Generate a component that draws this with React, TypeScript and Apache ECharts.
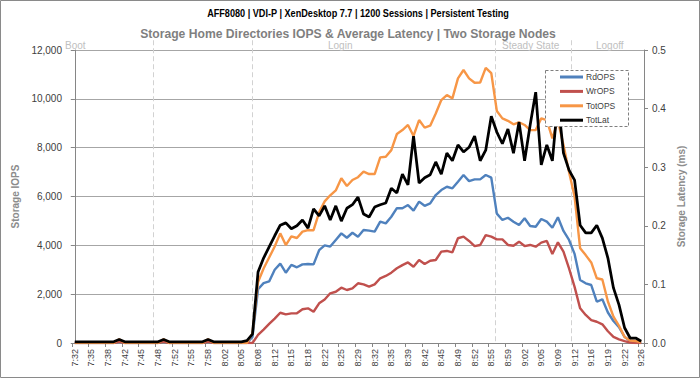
import React, { useEffect, useRef } from "react";
import * as echarts from "echarts";

const times: string[] = [
  "7:32", "7:33", "7:34", "7:35", "7:36", "7:37", "7:38", "7:39", "7:41",
  "7:42", "7:43", "7:44", "7:45", "7:46", "7:47", "7:48", "7:49", "7:51",
  "7:52", "7:53", "7:54", "7:55", "7:56", "7:57", "7:58", "7:59", "8:01",
  "8:02", "8:03", "8:04", "8:05", "8:06", "8:07", "8:08", "8:09", "8:11",
  "8:12", "8:13", "8:14", "8:15", "8:16", "8:17", "8:18", "8:19", "8:21",
  "8:22", "8:23", "8:24", "8:25", "8:26", "8:28", "8:29", "8:30", "8:31",
  "8:32", "8:33", "8:34", "8:35", "8:36", "8:38", "8:39", "8:40", "8:41",
  "8:42", "8:43", "8:44", "8:45", "8:46", "8:48", "8:49", "8:50", "8:51",
  "8:52", "8:53", "8:54", "8:55", "8:56", "8:58", "8:59", "9:00", "9:01",
  "9:02", "9:03", "9:04", "9:05", "9:06", "9:08", "9:09", "9:10", "9:11",
  "9:12", "9:13", "9:15", "9:16", "9:17", "9:18", "9:19", "9:20", "9:21",
  "9:22", "9:23", "9:25", "9:26",
];

const rdOPS: number[] = [
  0, 0, 0, 0, 0, 0, 0, 0, 90, 0, 0, 0, 0, 0, 0, 0, 90, 0, 0, 0,
  0, 0, 0, 0, 90, 0, 0, 0, 0, 0, 0, 0, 250, 2200, 2450, 2520, 3000, 3250, 2880, 3200,
  3100, 3220, 3235, 3220, 3800, 4000, 3950, 4220, 4490, 4310, 4515, 4350, 4630, 4600, 4560, 4970, 4900, 5170, 5520, 5520,
  5650, 5420, 5790, 5620, 5720, 6060, 6265, 6400, 6335, 6605, 6880, 6630, 6700, 6700, 6880, 6770, 5300, 5040, 5130, 4970,
  4830, 5110, 4790, 4760, 5080, 4970, 4720, 5150, 4590, 4220, 3650, 2580, 2445, 2375, 1690, 1790, 1250, 900, 650, 250,
  80, 50, 20,
];

const wrOPS: number[] = [
  0, 0, 0, 0, 0, 0, 0, 0, 60, 0, 0, 0, 0, 0, 0, 0, 60, 0, 0, 0,
  0, 0, 0, 0, 60, 0, 0, 0, 0, 0, 0, 0, 0, 330, 550, 780, 1000, 1240, 1175, 1215,
  1215, 1380, 1420, 1280, 1625, 1780, 2035, 2100, 2265, 2170, 2240, 2445, 2400, 2305, 2400, 2650, 2745, 2880, 3060, 3190,
  3300, 3125, 3400, 3235, 3370, 3400, 3740, 3770, 3715, 4290, 4355, 4180, 3970, 4015, 4420, 4355, 4245, 4245, 4015, 3985,
  4150, 3970, 4015, 3945, 4110, 4180, 3645, 4125, 3740, 3060, 2300, 1420, 1150, 940, 870, 765, 480, 250, 150, 80,
  20, 0, 0,
];

const totOPS: number[] = [
  0, 0, 0, 0, 0, 0, 0, 0, 150, 0, 0, 0, 0, 0, 0, 0, 150, 0, 0, 0,
  0, 0, 0, 0, 150, 0, 0, 0, 0, 0, 0, 0, 400, 2500, 3050, 3500, 3950, 4490, 4010, 4370,
  4300, 4560, 4620, 4620, 5350, 5800, 6050, 6250, 6745, 6430, 6675, 6790, 7015, 6920, 6920, 7600, 7630, 7900, 8560, 8720,
  8930, 8480, 9130, 8820, 8900, 9400, 9950, 10155, 10020, 10840, 11180, 10840, 10660, 10670, 11270, 11050, 9500, 9200, 9100, 8955,
  9040, 8930, 8720, 8720, 9200, 9130, 8380, 9100, 8110, 7000, 6000, 3880, 3600, 3300, 2650, 2600, 1700, 1080, 700, 250,
  100, 80, 30,
];

const totLat: number[] = [
  0.002, 0.002, 0.002, 0.002, 0.002, 0.002, 0.002, 0.002, 0.006, 0.002, 0.002, 0.002, 0.002, 0.002, 0.002, 0.002, 0.006, 0.002, 0.002, 0.002,
  0.002, 0.002, 0.002, 0.002, 0.006, 0.002, 0.002, 0.002, 0.002, 0.002, 0.002, 0.004, 0.015, 0.121, 0.145, 0.164, 0.183, 0.201, 0.205, 0.195,
  0.2, 0.21, 0.196, 0.229, 0.217, 0.234, 0.21, 0.234, 0.208, 0.23, 0.236, 0.249, 0.22, 0.215, 0.232, 0.236, 0.239, 0.264, 0.256, 0.288,
  0.27, 0.353, 0.273, 0.282, 0.287, 0.309, 0.288, 0.324, 0.311, 0.338, 0.326, 0.334, 0.353, 0.311, 0.329, 0.387, 0.36, 0.34, 0.365, 0.324,
  0.377, 0.311, 0.372, 0.428, 0.304, 0.338, 0.311, 0.415, 0.324, 0.295, 0.278, 0.201, 0.188, 0.188, 0.201, 0.179, 0.145, 0.094, 0.065, 0.026,
  0.0085, 0.0085, 0.003,
];

const seriesNames = ["RdOPS", "WrOPS", "TotOPS", "TotLat"];
const seriesColors = ["#4F81BD", "#C0504D", "#F79646", "#000000"];

// phase boundaries, in category-index units
const phaseBounds: number[] = [14.1, 31.9, 75.6, 89.4];
const phaseNames = ["Boot", "Login", "Steady State", "Logoff"];
const phaseLabelX = [65, 328, 502, 596];

const titleText = "AFF8080 | VDI-P | XenDesktop 7.7 | 1200 Sessions | Persistent Testing";
const subText = "Storage Home Directories IOPS & Average Latency | Two Storage Nodes";

const FONT = "'Liberation Sans', Arial, sans-serif";

export default function App() {
  const ref = useRef<HTMLDivElement>(null);
  useEffect(() => {
    if (!ref.current) return;
    const chart = echarts.init(ref.current, undefined, { renderer: "svg" });
    const axisGray = "#868686";
    const option: any = {
      animation: false,
      backgroundColor: "#ffffff",
      textStyle: { fontFamily: FONT },
      legend: {
        data: seriesNames,
        orient: "vertical",
        left: 560,
        top: 72.5,
        padding: 0,
        itemGap: 5.4,
        itemWidth: 23,
        itemHeight: 3,
        icon: "rect",
        z: 10,
        textStyle: { fontSize: 8.5, color: "#404040", fontFamily: FONT, padding: [0, 0, 0, -2] },
      },
      grid: { left: 72, right: 56, top: 50, bottom: 35 },
      xAxis: [
        {
          type: "category",
          data: times,
          boundaryGap: true,
          axisLine: { show: true, lineStyle: { color: axisGray, width: 1 } },
          axisTick: { show: true, interval: 2, length: 4, lineStyle: { color: axisGray } },
          axisLabel: { interval: 2, rotate: 90, fontSize: 9, color: "#404040", margin: 6 },
          splitLine: { show: false },
        },
        { type: "value", min: -0.5, max: 102.5, show: false },
      ],
      yAxis: [
        {
          type: "value",
          min: 0,
          max: 12000,
          interval: 2000,
          position: "left",
          name: "Storage IOPS",
          nameLocation: "middle",
          nameGap: 44,
          nameTextStyle: { color: "#8c8c8c", fontWeight: "bold", fontSize: 10 },
          axisLine: { show: true, lineStyle: { color: axisGray } },
          axisTick: { show: true, length: 4, lineStyle: { color: axisGray } },
          axisLabel: {
            fontSize: 10,
            color: "#404040",
            margin: 10,
            formatter: (v: number) => v.toLocaleString("en-US"),
          },
          splitLine: { show: true, lineStyle: { color: "#a6a6a6", width: 1 } },
        },
        {
          type: "value",
          min: 0,
          max: 0.5,
          interval: 0.1,
          position: "right",
          name: "Storage Latency (ms)",
          nameLocation: "middle",
          nameGap: 32,
          nameTextStyle: { color: "#8c8c8c", fontWeight: "bold", fontSize: 10 },
          axisLine: { show: true, lineStyle: { color: axisGray } },
          axisTick: { show: true, length: 4, lineStyle: { color: axisGray } },
          axisLabel: {
            fontSize: 10,
            color: "#404040",
            margin: 8,
            formatter: (v: number) => v.toFixed(1),
          },
          splitLine: { show: false },
        },
      ],
      series: [
        ...[rdOPS, wrOPS, totOPS].map((d, i) => ({
          name: seriesNames[i],
          type: "line",
          data: d,
          xAxisIndex: 0,
          yAxisIndex: 0,
          symbol: "none",
          showSymbol: false,
          color: seriesColors[i],
          lineStyle: { width: 2.4, color: seriesColors[i] },
          z: 2,
        })),
        {
          name: seriesNames[3],
          type: "line",
          data: totLat,
          xAxisIndex: 0,
          yAxisIndex: 1,
          symbol: "none",
          showSymbol: false,
          color: seriesColors[3],
          lineStyle: { width: 2.75, color: seriesColors[3] },
          z: 3,
        },
      ],
    };
    chart.setOption(option);

    // phase separators: positions converted through the hidden value x-axis
    const yTop = chart.convertToPixel({ yAxisIndex: 0 }, 12400) as number;
    const yBot = chart.convertToPixel({ yAxisIndex: 0 }, 0) as number;
    const phaseLines = phaseBounds.map((b) => {
      const px = Math.round(chart.convertToPixel({ xAxisIndex: 1 }, b) as number) + 0.5;
      return {
        type: "line",
        z: 1,
        silent: true,
        shape: { x1: px, y1: yTop, x2: px, y2: yBot },
        style: { stroke: "#d2d2d2", lineWidth: 1, lineDash: [5, 3] },
      };
    });

    chart.setOption({
      graphic: [
        {
          type: "rect",
          shape: { x: 0.5, y: 0.5, width: 699, height: 377 },
          style: { fill: "none", stroke: "#8a8a8a", lineWidth: 1 },
          silent: true,
        },
        ...phaseLines,
        {
          type: "text",
          x: 358,
          y: 13,
          scaleX: 0.83,
          style: {
            text: titleText,
            fill: "#000000",
            font: `bold 11px ${FONT}`,
            textAlign: "center",
            textVerticalAlign: "middle",
            verticalAlign: "middle",
          },
          silent: true,
        },
        {
          type: "text",
          x: 348,
          y: 33,
          scaleX: 0.9,
          style: {
            text: subText,
            fill: "#7f7f7f",
            font: `bold 13.5px ${FONT}`,
            textAlign: "center",
            textVerticalAlign: "middle",
            verticalAlign: "middle",
          },
          silent: true,
        },
        {
          type: "rect",
          z: 8,
          shape: { x: 545.5, y: 70.5, width: 83, height: 56 },
          style: { fill: "#ffffff", stroke: "#7f7f7f", lineWidth: 1, lineDash: [3, 2] },
          silent: true,
        },
        ...phaseNames.map((p, i) => ({
          type: "text",
          x: phaseLabelX[i],
          y: 45,
          style: {
            text: p,
            fill: "#c0c0c0",
            font: `10px ${FONT}`,
            textVerticalAlign: "middle",
            verticalAlign: "middle",
          },
          silent: true,
        })),
      ],
    });
    return () => chart.dispose();
  }, []);
  return (
    <div
      ref={ref}
      style={{ position: "absolute", left: 0, top: 0, width: 700, height: 378 }}
    />
  );
}
